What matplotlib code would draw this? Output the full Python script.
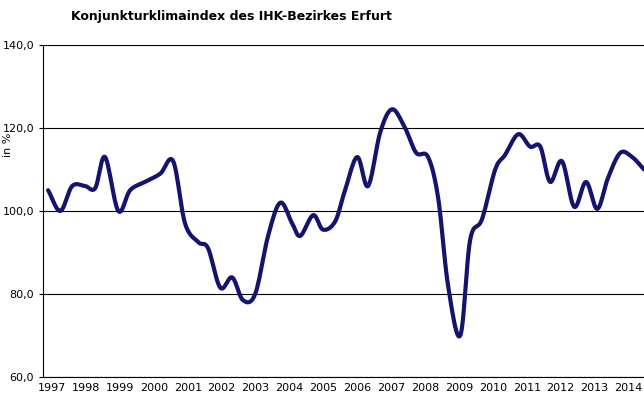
import numpy as np
import matplotlib.pyplot as plt

jahr = [1996.88, 1997.24, 1997.59, 1997.97, 1998.27, 1998.56, 1998.95, 1999.30, 1999.74, 2000.19,
        2000.57, 2000.92, 2001.31, 2001.60, 2001.96, 2002.31, 2002.63, 2002.99, 2003.37, 2003.73,
        2004.08, 2004.32, 2004.70, 2004.99, 2005.35, 2005.64, 2006.00, 2006.32, 2006.68, 2007.03,
        2007.41, 2007.74, 2008.09, 2008.39, 2008.68, 2009.04, 2009.33, 2009.68, 2010.07, 2010.36,
        2010.75, 2011.10, 2011.40, 2011.69, 2012.04, 2012.40, 2012.75, 2013.08, 2013.40, 2013.76,
        2014.11, 2014.46]
index = [105, 100, 106, 106, 105.5, 113, 100, 105, 107, 109,
         112, 97, 92.5, 91, 81.5, 84, 78.5, 80, 94, 102,
         97, 94, 99, 95.5, 97.5, 105, 113, 106, 119, 124.5,
         120, 114, 113, 103, 82, 70, 93, 98, 110, 113.5,
         118.5, 115.5, 115.5, 107, 112, 101, 107, 100.5, 108, 114,
         113, 110]
jahre = list(range(1997, 2015))

# Catmull-Rom, nur fuer die glatte Darstellung
def glatt(x, y, n=12):
    x = np.asarray(x, float); y = np.asarray(y, float)
    px = np.concatenate([[2*x[0]-x[1]], x, [2*x[-1]-x[-2]]])
    py = np.concatenate([[2*y[0]-y[1]], y, [2*y[-1]-y[-2]]])
    t = np.linspace(0, 1, n, endpoint=False)[:, None]
    def cr(p):
        p0, p1, p2, p3 = p[:-3], p[1:-2], p[2:-1], p[3:]
        return 0.5*(2*p1 + (-p0+p2)*t + (2*p0-5*p1+4*p2-p3)*t**2 + (-p0+3*p1-3*p2+p3)*t**3)
    xs = cr(px).T.ravel(); ys = cr(py).T.ravel()
    return np.append(xs, x[-1]), np.append(ys, y[-1])

fig = plt.figure(figsize=(6.44, 4.04), dpi=100)
ax = fig.add_axes([0.0668, 0.0668, 0.9332, 0.822])
xs, ys = glatt(jahr, index)
ax.plot(xs, ys, color='#14146e', lw=3, solid_capstyle='round')
ax.set_xlim(1996.73, 2014.46)
ax.set_ylim(60, 140)
ax.set_yticks([60, 80, 100, 120, 140])
ax.set_yticklabels(['60,0', '80,0', '100,0', '120,0', '140,0'], fontsize=8)
ax.yaxis.grid(True, color='black', lw=0.8)
ax.set_xticks(jahre)
ax.set_xticklabels([str(j) for j in jahre], fontsize=8)
ax.tick_params(axis='x', length=0, pad=4)
ax.tick_params(axis='y', length=3)
for s in ['top', 'right']:
    ax.spines[s].set_visible(False)
ax.set_ylabel('in %', fontsize=8)
ax.yaxis.set_label_coords(-0.05, 0.7)
fig.text(0.11, 0.975, 'Konjunkturklimaindex des IHK-Bezirkes Erfurt', fontsize=9, fontweight='bold', va='top')
fig.savefig('out.png')
